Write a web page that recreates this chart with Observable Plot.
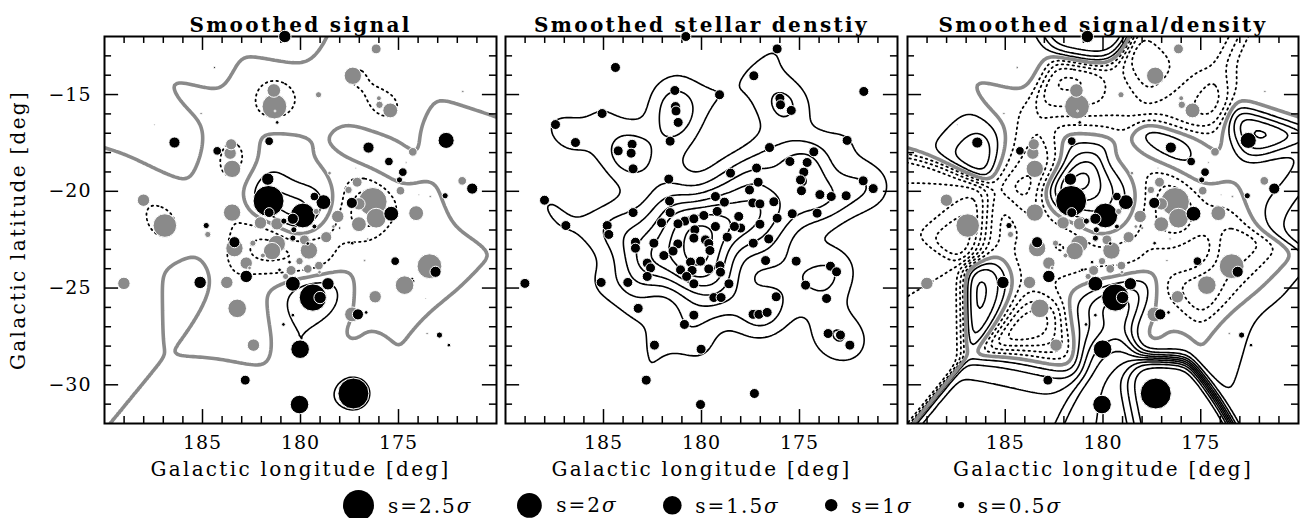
<!DOCTYPE html>
<html>
<head>
<meta charset="utf-8">
<script src="https://cdn.jsdelivr.net/npm/d3@7"></script>
<script src="https://cdn.jsdelivr.net/npm/@observablehq/plot@0.6"></script>
<style>
  body { margin: 0; background: #fff; }
  #fig { position: relative; width: 1300px; height: 518px; font-family: "DejaVu Serif", serif; }
  #fig > svg { position: absolute; top: 0; }
  #fig svg g[aria-label="text"] { letter-spacing: 2.3px; }
  #fig svg g[aria-label="x-axis tick label"], #fig svg g[aria-label="y-axis tick label"] { letter-spacing: 1px; }
  #legend { position: absolute; top: 489px; left: 342px; display: flex; align-items: center;
            font-size: 20px; letter-spacing: 2px; color: #000; white-space: nowrap; }
  #legend .item { display: flex; align-items: center; margin-right: 44px; }
  #legend svg { margin-right: 13px; }
</style>
</head>
<body>
<div id="fig"><div id="legend"></div></div>
<script>
// Field positions (galactic longitude / latitude, degrees) and signal significance s (in sigma)
const lon = [180.8,184.39,181.36,181.33,181.3,181.19,185.07,187.45,186.43,183.54,184.25,183.59,183.49,181.6,181.67,188.01,181.63,183.49,181.6,186.92,184.81,184.73,
  176.14,177.33,179.08,176.0,175.97,175.42,171.72,172.57,176.53,174.27,175.49,174.61,174.78,174.95,174.9,173.96,173.38,172.62,171.75,171.24,177.19,178.52,177.11,177.55,176.31,175.37,174.1,176.14,177.02,177.38,177.02,179.29,178.83,179.2,178.1,178.0,
  180.85,180.39,179.88,182.04,181.2,180.34,179.29,178.32,178.69,180.39,179.8,179.63,181.21,182.43,183.37,183.37,181.45,177.36,176.57,181.92,182.77,182.6,180.56,180.05,181.07,180.48,179.63,179.06,179.03,180.76,180.39,182.77,178.6,176.73,175.17,179.57,
  179.37,179.0,176.19,177.37,177.07,176.65,174.69,173.42,173.11,173.62,173.54,172.91,172.43,177.3,180.05,180.02,182.82,182.4,183.23,180.39,180.87,185.12,183.76,189.01];
const lat = [-12.0,-13.6,-14.79,-15.62,-15.85,-16.44,-15.98,-16.55,-17.48,-17.57,-17.91,-18.03,-18.84,-17.41,-19.37,-20.46,-20.5,-21.1,-21.1,-21.77,-21.77,-22.23,
  -12.64,-14.03,-15.01,-15.19,-15.53,-15.82,-14.84,-17.37,-17.74,-17.96,-18.46,-18.51,-19.01,-19.41,-19.97,-20.17,-20.27,-20.23,-19.46,-19.86,-18.8,-19.06,-19.53,-19.93,-20.54,-21.16,-21.13,-21.39,-21.7,-20.6,-20.65,-20.27,-20.56,-21.04,-21.3,-21.9,
  -21.54,-21.42,-21.25,-21.63,-21.68,-21.99,-21.82,-21.82,-22.37,-22.42,-22.51,-22.7,-22.72,-22.68,-22.63,-22.94,-23.09,-22.68,-22.46,-23.32,-23.71,-23.96,-23.66,-23.61,-24.06,-24.09,-24.01,-23.84,-24.18,-24.4,-24.78,-24.4,-24.78,-23.58,-23.61,-23.06,
  -25.49,-25.49,-25.45,-26.36,-26.36,-26.26,-24.85,-23.87,-24.16,-25.54,-27.35,-27.43,-27.95,-30.45,-31.02,-28.16,-29.76,-27.95,-26.05,-26.4,-26.88,-24.71,-24.71,-24.76];
const sig = [1.0,0.15,-1.1,-2.0,-0.15,0.3,-0.2,0.1,0.9,-0.9,0.7,-1.0,-1.4,0.7,1.0,-1.0,2.5,-1.4,0.8,-1.9,0.5,-0.5,
  -0.8,-1.4,-0.5,-0.4,-0.6,-1.2,-0.2,1.3,0.9,-0.7,0.7,-0.15,0.7,0.5,-0.7,0.1,-0.2,0.5,-0.7,0.9,0.1,-0.3,-0.8,-0.6,-2.3,1.2,-1.2,-1.6,-1.2,0.9,-1.0,0.7,1.2,-0.5,-1.0,0.2,
  0.5,0.9,2.0,-1.0,-1.0,0.5,0.4,-0.3,-0.9,0.5,-0.8,0.3,-1.4,-0.5,0.9,-1.4,-1.4,0.3,-0.2,-0.4,-1.0,-0.3,0.3,-0.6,0.3,-0.8,-0.7,-0.7,-0.3,-0.5,1.2,1.0,1.0,-0.2,0.7,-1.4,
  2.2,1.0,-1.0,-1.2,0.9,0.3,-1.5,-2.0,0.9,0.1,-0.2,0.5,0.3,2.5,1.5,1.5,0.8,-1.0,-1.5,0.3,0.3,1.0,-1.0,-1.0];

// Axis ticks
const lonMajor = [185, 180, 175];
const lonMinor = [171, 172, 173, 174, 176, 177, 178, 179, 181, 182, 183, 184, 186, 187, 188, 189];
const latMajor = [-15, -20, -25, -30];
const latMinor = [-13, -14, -16, -17, -18, -19, -21, -22, -23, -24, -26, -27, -28, -29, -31];

// Contour levels of the three smoothed maps
const signalPos = [1.7, 3.4];
const signalNeg = [-1.7, -3.4];
const densityLevels = [1.3, 2.6, 4, 5.5, 7, 8.5, 10, 11.5, 13, 14.5];
const ratioPos = [0.25, 0.5, 0.75, 1.0, 1.25, 1.5, 1.75, 2.0, 2.25];
const ratioNeg = [-0.25, -0.5, -0.75, -1.0, -1.25, -1.5, -1.75, -2.0];

// Legend sizes
const legendSig = [2.5, 2, 1.5, 1, 0.5];

const titles = ["Smoothed signal", "Smoothed stellar denstiy", "Smoothed signal/density"];

const GRAY = "#8a8a8a";
const FONT = "'DejaVu Serif', serif";
const RMAX = 15.5;

const pts = lon.map((l, i) => ({lon: l, lat: lat[i], s: sig[i]}));
const bySize = d3.sort(pts, d => -Math.abs(d.s));

// Gaussian-smoothed maps on a grid slightly larger than the frame
const NX = 180, NY = 180, SMOOTH = 0.95;
const gx1 = 190.6, gx2 = 169.4, gy1 = -32.6, gy2 = -11.4;
const S = new Array(NX * NY), D = new Array(NX * NY), R = new Array(NX * NY);
for (let j = 0; j < NY; ++j) {
  const y = gy1 + (j + 0.5) * (gy2 - gy1) / NY;
  for (let i = 0; i < NX; ++i) {
    const x = gx1 + (i + 0.5) * (gx2 - gx1) / NX;
    let s = 0, d = 0;
    for (const p of pts) {
      const w = Math.exp(-((x - p.lon) ** 2 + (y - p.lat) ** 2) / (2 * SMOOTH * SMOOTH));
      s += w * p.s; d += w;
    }
    const k = j * NX + i;
    S[k] = s; D[k] = d; R[k] = d > 0 ? s / d : 0;
  }
}
const grid = {x1: gx1, x2: gx2, y1: gy1, y2: gy2, width: NX, height: NY, fill: "none", clip: true};

const MAJ = 0.72, MIN = 0.36;   // inward tick lengths (deg)
function frameMarks() {
  return [
    Plot.frame({strokeWidth: 2}),
    Plot.ruleX(lonMajor, {x: d => d, y1: -32, y2: -32 + MAJ, strokeWidth: 1.5}),
    Plot.ruleX(lonMinor, {x: d => d, y1: -32, y2: -32 + MIN, strokeWidth: 1.5}),
    Plot.ruleX(lonMajor, {x: d => d, y1: -12, y2: -12 - MAJ, strokeWidth: 1.5}),
    Plot.ruleX(lonMinor, {x: d => d, y1: -12, y2: -12 - MIN, strokeWidth: 1.5}),
    Plot.ruleY(latMajor, {y: d => d, x1: 190, x2: 190 - MAJ, strokeWidth: 1.5}),
    Plot.ruleY(latMinor, {y: d => d, x1: 190, x2: 190 - MIN, strokeWidth: 1.5}),
    Plot.ruleY(latMajor, {y: d => d, x1: 170, x2: 170 + MAJ, strokeWidth: 1.5}),
    Plot.ruleY(latMinor, {y: d => d, x1: 170, x2: 170 + MIN, strokeWidth: 1.5}),
    Plot.axisX(lonMajor, {tickSize: 0, tickPadding: 12, fontSize: 19, label: null}),
    Plot.text(["Galactic longitude [deg]"], {text: d => d, frameAnchor: "bottom", dy: 52, fontSize: 20})
  ];
}
function titleMark(t) {
  return Plot.text([t], {text: d => d, frameAnchor: "top", dy: -19, fontSize: 20, fontWeight: "bold"});
}
function signalDots() {
  return Plot.dot(bySize, {x: "lon", y: "lat", r: d => Math.abs(d.s),
    fill: d => d.s > 0 ? "black" : GRAY, stroke: "white", strokeWidth: 1});
}
const base = (left, ml, mr, width) => ({
  width, height: 490, marginTop: 36, marginBottom: 67, marginLeft: ml, marginRight: mr,
  x: {domain: [190, 170]},
  r: {type: "linear", domain: [0, 2.5], range: [0, RMAX]},
  style: `font-family:${FONT};font-size:19px;overflow:visible;background:transparent;left:${left}px`
});

const fig = document.getElementById("fig");

// Panel 1: smoothed signal
const p1 = Plot.plot({
  ...base(0, 104, 4, 500),
  y: {domain: [-32, -12]},
  marks: [
    Plot.contour(S, {...grid, thresholds: signalNeg, stroke: "black", strokeWidth: 1.8, strokeDasharray: "1.5,4", strokeLinecap: "round"}),
    Plot.contour(S, {...grid, thresholds: signalPos, stroke: "black", strokeWidth: 1.6}),
    Plot.contour(S, {...grid, thresholds: [0], stroke: GRAY, strokeWidth: 3.6}),
    ...frameMarks(),
    Plot.axisY(latMajor, {tickSize: 0, tickPadding: 13, fontSize: 19, label: null}),
    Plot.text(["Galactic latitude [deg]"], {text: d => d, frameAnchor: "left", textAnchor: "middle", dx: -86, rotate: -90, fontSize: 20}),
    titleMark(titles[0]),
    signalDots()
  ]
});
fig.appendChild(p1);

// Panel 2: smoothed stellar density
const p2 = Plot.plot({
  ...base(500, 5, 3, 400),
  y: {domain: [-32, -12], axis: null},
  marks: [
    Plot.contour(D, {...grid, thresholds: densityLevels, stroke: "black", strokeWidth: 1.6}),
    ...frameMarks(),
    titleMark(titles[1]),
    Plot.dot(pts, {x: "lon", y: "lat", r: 5, fill: "black", stroke: "white", strokeWidth: 1})
  ]
});
fig.appendChild(p2);

// Panel 3: smoothed signal / density
const p3 = Plot.plot({
  ...base(900, 7, 2, 400),
  y: {domain: [-32, -12], axis: null},
  marks: [
    Plot.contour(R, {...grid, thresholds: ratioNeg, stroke: "black", strokeWidth: 1.8, strokeDasharray: "1.5,4", strokeLinecap: "round"}),
    Plot.contour(R, {...grid, thresholds: ratioPos, stroke: "black", strokeWidth: 1.6}),
    Plot.contour(R, {...grid, thresholds: [0], stroke: GRAY, strokeWidth: 3.6}),
    ...frameMarks(),
    titleMark(titles[2]),
    signalDots()
  ]
});
fig.appendChild(p3);

// Size legend
const rad = d3.scaleLinear([0, 2.5], [0, RMAX]);
const legend = d3.select("#legend");
for (const v of legendSig) {
  const item = legend.append("div").attr("class", "item");
  const r = rad(v);
  item.append("svg").attr("width", 2 * r + 2).attr("height", 2 * r + 2)
    .append("circle").attr("cx", r + 1).attr("cy", r + 1).attr("r", r).attr("fill", "black");
  const label = item.append("span");
  label.append("span").text(`s=${v}`);
  label.append("i").text("σ");
}
</script>
</body>
</html>
